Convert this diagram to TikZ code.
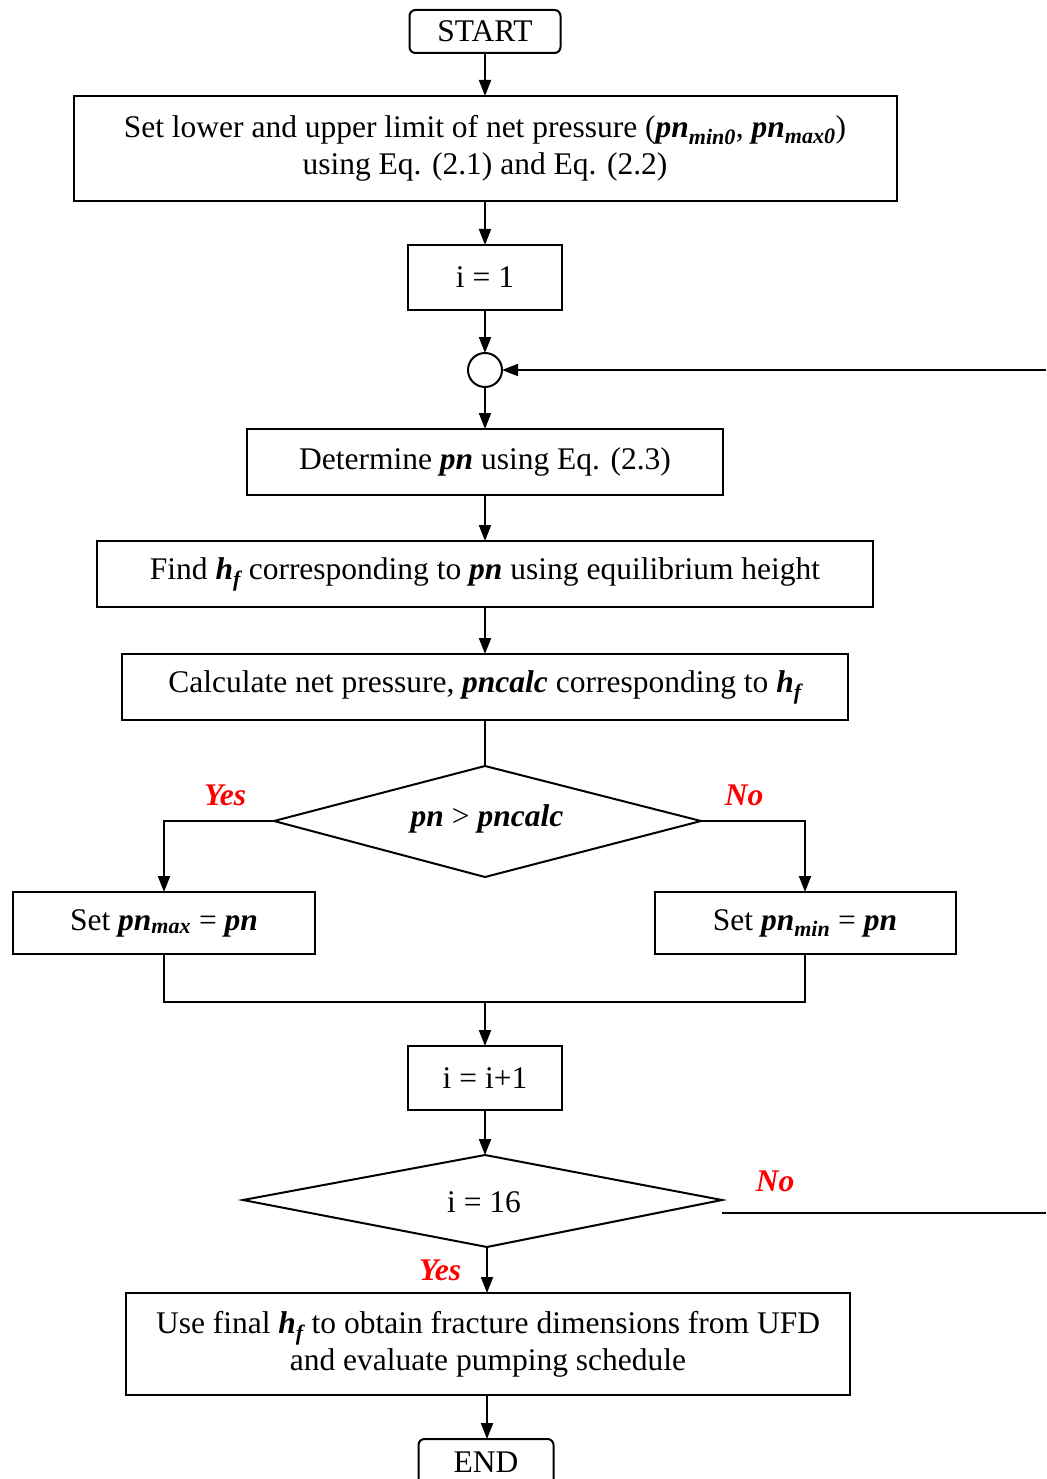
\documentclass[tikz,border=0pt]{standalone}
\usepackage{fontspec}
\setmainfont{Liberation Serif}
\usetikzlibrary{shapes.geometric,arrows.meta}
\newcommand{\bi}[1]{\textbf{\textit{#1}}}
\newcommand{\bsub}[1]{\textsubscript{\bfseries\itshape #1}}
\begin{document}
\begin{tikzpicture}[x=1pt,y=-1pt,
  font=\fontsize{31.5}{37}\selectfont,
  every node/.style={inner sep=0pt,outer sep=0pt},
  procbox/.style={draw,line width=2pt,align=center},
  termbox/.style={procbox,rounded corners=6pt},
  decision/.style={draw,line width=2pt},
  conn/.style={line width=2pt,-{Triangle[length=16pt,width=12pt]}},
  plain/.style={line width=2pt},
  answer/.style={text=red,font=\fontsize{31.5}{37}\selectfont\bfseries\itshape}]
\useasboundingbox (0,0) rectangle (1046,1479);

% main column at x = 485
\node[termbox,minimum width=151pt,minimum height=43pt] (start) at (485,31.5) {START};
\node[procbox,minimum width=823pt,minimum height=105pt] (limits) at (485,148.5)
  {Set lower and upper limit of net pressure (\bi{pn}\bsub{min0}, \bi{pn}\bsub{max0})\\using Eq. (2.1) and Eq. (2.2)};
\node[procbox,minimum width=154pt,minimum height=65pt] (init) at (485,277.5) {i = 1};
\node[draw,line width=2pt,ellipse,minimum width=34pt,minimum height=34pt] (join) at (485,370) {};
\node[procbox,minimum width=476pt,minimum height=66pt] (det) at (485,462) {Determine \bi{pn} using Eq. (2.3)};
\node[procbox,minimum width=776pt,minimum height=66pt] (find) at (485,574)
  {Find \bi{h}\bsub{f} corresponding to \bi{pn} using equilibrium height};
\node[procbox,minimum width=726pt,minimum height=66pt] (calc) at (485,687)
  {Calculate net pressure, \bi{pncalc} corresponding to \bi{h}\bsub{f}};
\node[procbox,minimum width=302pt,minimum height=62pt] (setmax) at (164,923) {Set \bi{pn}\bsub{max} = \bi{pn}};
\node[procbox,minimum width=301pt,minimum height=62pt] (setmin) at (805,923) {Set \bi{pn}\bsub{min} = \bi{pn}};
\node[procbox,minimum width=154pt,minimum height=64pt] (incr) at (485,1078) {i = i+1};
\node[procbox,minimum width=724pt,minimum height=102pt] (final) at (488,1344)
  {Use final \bi{h}\bsub{f} to obtain fracture dimensions from UFD\\and evaluate pumping schedule};
\node[termbox,minimum width=135pt,minimum height=60pt] (stop) at (486,1469) {};
\node (stoptext) at (486,1462) {END};

% first decision
\coordinate (d1t) at (485,766);
\coordinate (d1b) at (485,877);
\coordinate (d1l) at (274,821);
\coordinate (d1r) at (701,821);
\draw[decision] (d1t) -- (d1r) -- (d1b) -- (d1l) -- cycle;
\node (d1text) at (487,819) {\bi{pn} > \bi{pncalc}};

% second decision
\coordinate (d2t) at (485,1155);
\coordinate (d2b) at (487,1247);
\coordinate (d2l) at (243,1200);
\coordinate (d2r) at (722,1200);
\draw[decision] (d2t) -- (d2r) -- (d2b) -- (d2l) -- cycle;
\node (d2text) at (484,1202) {i = 16};

% branch labels
\node[answer] (yes1) at (225,795) {Yes};
\node[answer] (no1) at (744,795) {No};
\node[answer] (no2) at (775,1181) {No};
\node[answer] (yes2) at (440,1270) {Yes};

% connectors
\draw[conn] (start) -- (limits);
\draw[conn] (limits) -- (init);
\draw[conn] (init) -- (join);
\draw[conn] (join) -- (det);
\draw[conn] (det) -- (find);
\draw[conn] (find) -- (calc);
\draw[plain] (calc) -- (d1t);
\draw[conn] (d1l) -| (setmax.north);
\draw[conn] (d1r) -| (setmin.north);
\coordinate (merge) at (485,1002);
\draw[plain] (setmax.south) |- (merge) -| (setmin.south);
\draw[conn] (merge) -- (incr.north);
\draw[conn] (incr) -- (d2t);
\draw[conn] (d2b) -- (final.north -| d2b);
\draw[conn] (final.south -| d2b) -- (stop.north -| d2b);

% loop back from the lower decision
\coordinate (loopstart) at (722,1213);
\coordinate (loopout) at (1046,1213);
\coordinate (loopin) at (1046,370);
\draw[plain] (loopstart) -- (loopout);
\draw[conn] (loopin) -- (join.east);
\end{tikzpicture}
\end{document}
